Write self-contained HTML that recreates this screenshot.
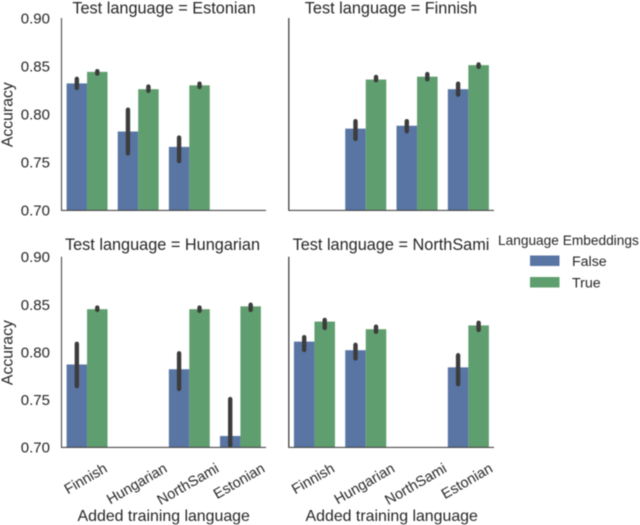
<!DOCTYPE html>
<html>
<head>
<meta charset="utf-8">
<style>
html,body{margin:0;padding:0;background:#fff;width:640px;height:525px;overflow:hidden}
svg{display:block;filter:blur(0.55px)}
text{font-family:"Liberation Sans",sans-serif;fill:#262626}
</style>
</head>
<body>
<svg id="chart" width="640" height="525" viewBox="0 0 640 525" xmlns="http://www.w3.org/2000/svg">
  <g id="marks"></g>
  <g>
    <text x="498" y="245" font-size="13.7">Language Embeddings</text>
    <rect x="530" y="255.5" width="29.5" height="10.5" fill="#5975a4"/>
    <text x="572" y="266" font-size="14.2">False</text>
    <rect x="530" y="277" width="29.5" height="10.5" fill="#5f9e6e"/>
    <text x="572" y="287.5" font-size="14.2">True</text>
  </g>
</svg>
<script>
const categories = ['Finnish', 'Hungarian', 'NorthSami', 'Estonian'];
const yTickLabels = ['0.70', '0.75', '0.80', '0.85', '0.90'];
const yTickValues = [0.70, 0.75, 0.80, 0.85, 0.90];
const panelTitles = ['Test language = Estonian', 'Test language = Finnish', 'Test language = Hungarian', 'Test language = NorthSami'];

const estonianFalse = [0.832, 0.782, 0.766, null];
const estonianFalseLow = [0.825, 0.757, 0.749, null];
const estonianFalseHigh = [0.839, 0.807, 0.778, null];
const estonianTrue = [0.844, 0.826, 0.830, null];
const estonianTrueLow = [0.840, 0.822, 0.826, null];
const estonianTrueHigh = [0.847, 0.831, 0.834, null];

const finnishFalse = [null, 0.785, 0.788, 0.826];
const finnishFalseLow = [null, 0.772, 0.780, 0.818];
const finnishFalseHigh = [null, 0.795, 0.795, 0.834];
const finnishTrue = [null, 0.836, 0.839, 0.851];
const finnishTrueLow = [null, 0.833, 0.834, 0.847];
const finnishTrueHigh = [null, 0.841, 0.844, 0.854];

const hungarianFalse = [0.787, null, 0.782, 0.712];
const hungarianFalseLow = [0.762, null, 0.759, 0.700];
const hungarianFalseHigh = [0.811, null, 0.801, 0.753];
const hungarianTrue = [0.845, null, 0.845, 0.848];
const hungarianTrueLow = [0.842, null, 0.841, 0.842];
const hungarianTrueHigh = [0.849, null, 0.849, 0.852];

const northSamiFalse = [0.811, 0.802, null, 0.784];
const northSamiFalseLow = [0.800, 0.791, null, 0.764];
const northSamiFalseHigh = [0.818, 0.810, null, 0.799];
const northSamiTrue = [0.832, 0.824, null, 0.828];
const northSamiTrueLow = [0.823, 0.819, null, 0.821];
const northSamiTrueHigh = [0.836, 0.829, null, 0.833];

const panelSeries = [
  [estonianFalse, estonianFalseLow, estonianFalseHigh, estonianTrue, estonianTrueLow, estonianTrueHigh],
  [finnishFalse, finnishFalseLow, finnishFalseHigh, finnishTrue, finnishTrueLow, finnishTrueHigh],
  [hungarianFalse, hungarianFalseLow, hungarianFalseHigh, hungarianTrue, hungarianTrueLow, hungarianTrueHigh],
  [northSamiFalse, northSamiFalseLow, northSamiFalseHigh, northSamiTrue, northSamiTrueLow, northSamiTrueHigh]
];

const NS = 'http://www.w3.org/2000/svg';
const root = document.getElementById('marks');
const frames = [
  {x0: 61.5, x1: 266, top: 18, bottom: 210.4, leftColor: '#4a4a4a'},
  {x0: 288.8, x1: 494, top: 18, bottom: 210.4, leftColor: '#222222'},
  {x0: 61.5, x1: 266, top: 256.8, bottom: 447.4, leftColor: '#4a4a4a'},
  {x0: 288.8, x1: 494, top: 256.8, bottom: 447.4, leftColor: '#222222'}
];
const titleAnchors = [[164, 13.5], [391, 13.5], [162.5, 250], [391, 250]];
const capRadius = 2.2;

function make(tag, attrs, parent) {
  const el = document.createElementNS(NS, tag);
  for (const k in attrs) el.setAttribute(k, attrs[k]);
  parent.appendChild(el);
  return el;
}
function xBand(f, i) { return f.x0 + (i + 0.5) * (f.x1 - f.x0) / categories.length; }
function yScale(f, v) { return f.bottom - (v - 0.7) / 0.2 * (f.bottom - f.top); }

frames.forEach((f, p) => {
  const g = make('g', {}, root);
  
  
  const barW = 0.4 * (f.x1 - f.x0) / categories.length;
  const s = panelSeries[p];
  const groups = [
    {vals: s[0], lo: s[1], hi: s[2], color: '#5975a4', off: -barW / 2, name: 'bar-false'},
    {vals: s[3], lo: s[4], hi: s[5], color: '#5f9e6e', off: barW / 2, name: 'bar-true'}
  ];
  groups.forEach(gr => {
    gr.vals.forEach((v, i) => {
      if (v === null) return;
      const cx = xBand(f, i) + gr.off;
      const y = yScale(f, v);
      const r = make('rect', {x: cx - barW / 2, y: y, width: barW, height: f.bottom - y, fill: gr.color}, g);
      
      
    });
  });
  groups.forEach(gr => {
    gr.vals.forEach((v, i) => {
      if (v === null) return;
      const cx = xBand(f, i) + gr.off;
      const yLow = Math.min(yScale(f, gr.lo[i]) - capRadius, f.bottom - capRadius);
      const yHigh = yScale(f, gr.hi[i]) + capRadius;
      const e = make('line', {x1: cx, x2: cx, y1: yLow, y2: yHigh, stroke: '#3c3c3c', 'stroke-width': capRadius * 2, 'stroke-linecap': 'round'}, g);
      
      
    });
  });
  const la = make('line', {x1: f.x0, x2: f.x0, y1: f.top, y2: f.bottom, stroke: f.leftColor, 'stroke-width': 1.1}, g);
  
  
  const ba = make('line', {x1: f.x0 - 0.5, x2: f.x1, y1: f.bottom, y2: f.bottom, stroke: '#4a4a4a', 'stroke-width': 1.1}, g);
  
  

  const t = make('text', {x: titleAnchors[p][0], y: titleAnchors[p][1], 'text-anchor': 'middle', 'font-size': 16.3}, g);
  t.textContent = panelTitles[p];
  
  

  if (p % 2 === 0) {
    yTickValues.forEach((v, i) => {
      const lab = make('text', {x: 50, y: yScale(f, v) + 5.3, 'text-anchor': 'end', 'font-size': 15}, g);
      lab.textContent = yTickLabels[i];
      
      
    });
    const cy = (f.top + f.bottom) / 2 + 0.5;
    const yt = make('text', {x: 12.5, y: cy, 'text-anchor': 'middle', 'font-size': 15.8, transform: 'rotate(-90 12.5 ' + cy + ')'}, g);
    yt.textContent = 'Accuracy';
    
    
  }
  if (p >= 2) {
    categories.forEach((c, i) => {
      const cx = xBand(f, i) - 1.5;
      const lab = make('text', {'text-anchor': 'middle', 'font-size': 14.5}, g);
      lab.textContent = c;
      
      
      const w = lab.getComputedTextLength();
      const halfH = (w * 0.5 + 14.5 * 0.866) / 2;
      const cy = 460.5 + halfH;
      lab.setAttribute('x', cx);
      lab.setAttribute('y', cy + 5);
      lab.setAttribute('transform', 'rotate(-30 ' + cx + ' ' + cy + ')');
    });
    const xt = make('text', {x: p === 2 ? 163.7 : 391.7, y: 521, 'text-anchor': 'middle', 'font-size': 15.9}, g);
    xt.textContent = 'Added training language';
    
    
  }
});
</script>
</body>
</html>
